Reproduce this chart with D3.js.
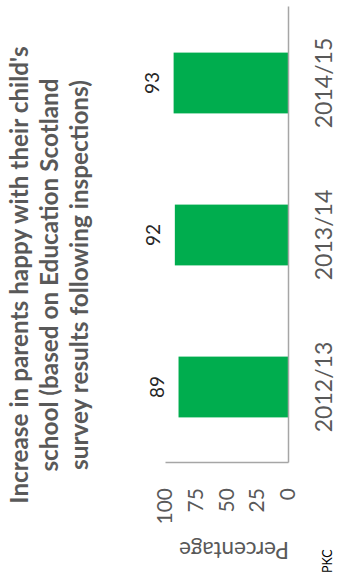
<!DOCTYPE html>
<html>
<head>
<meta charset="utf-8">
<script src="https://cdn.jsdelivr.net/npm/d3@7"></script>
<style>
  body { margin: 0; background: #fff; }
  svg { display: block; }
</style>
</head>
<body>
<script>
var categories = ["2012/13", "2013/14", "2014/15"];
var values = [89, 92, 93];
var ticks = [0, 25, 50, 75, 100];
var titleLines = [
    "Increase in parents happy with their child's",
    "school (based on Education Scotland",
    "survey results following inspections)"
];
var axisTitle = "Percentage";
var source = "PKC";

var imgWidth = 337;
var imgHeight = 588;

// the chart is drawn upright and then turned a quarter to the left,
// so the inner width is the page height and the inner height the page width
var chartWidth = imgHeight;
var chartHeight = imgWidth;

var margin = {top: 7, right: 7, bottom: 49, left: 125};
var plotTop = 165;

var font = "Lato, Carlito, Calibri, sans-serif";

var svg = d3.select("body").append("svg")
    .attr("width", imgWidth)
    .attr("height", imgHeight);

var g = svg.append("g")
    .attr("transform", "translate(0," + imgHeight + ") rotate(-90)");

var xScale = d3.scaleBand()
    .domain(categories)
    .range([margin.left, chartWidth - margin.right])
    .paddingInner(0.6)
    .paddingOuter(0.3);

var yScale = d3.scaleLinear()
    .domain([0, 100])
    .range([chartHeight - margin.bottom, plotTop]);

var data = categories.map(function(c, i) { return {cat: c, val: values[i]}; });

// bars
g.selectAll("rect.bar")
    .data(data)
    .enter().append("rect")
    .attr("class", "bar")
    .attr("x", function(d) { return xScale(d.cat); })
    .attr("width", xScale.bandwidth())
    .attr("y", function(d) { return yScale(d.val); })
    .attr("height", function(d) { return yScale(0) - yScale(d.val); })
    .attr("fill", "#00ad4e");

// value labels above bars
g.selectAll("text.val")
    .data(data)
    .enter().append("text")
    .attr("class", "val")
    .attr("x", function(d) { return xScale(d.cat) + xScale.bandwidth() / 2; })
    .attr("y", function(d) { return yScale(d.val) - 15; })
    .attr("text-anchor", "middle")
    .attr("font-family", font)
    .attr("font-size", 19)
    .attr("fill", "#262626")
    .text(function(d) { return d.val; });

// category axis
var xAxis = g.append("g")
    .attr("transform", "translate(0," + yScale(0) + ")")
    .call(d3.axisBottom(xScale).tickSize(0).tickSizeOuter(0));
xAxis.select(".domain").attr("stroke", "#a6a6a6").attr("stroke-width", 1.5);
xAxis.selectAll("text")
    .attr("font-family", font)
    .attr("font-size", 23)
    .attr("fill", "#595959")
    .attr("dy", null)
    .attr("y", 44);

// value axis
var yAxis = g.append("g")
    .attr("transform", "translate(" + margin.left + ",0)")
    .call(d3.axisLeft(yScale).tickValues(ticks).tickSize(0).tickSizeOuter(0));
yAxis.select(".domain").attr("stroke", "#a6a6a6").attr("stroke-width", 1.5);
yAxis.selectAll("text")
    .attr("font-family", font)
    .attr("font-size", 21)
    .attr("fill", "#595959")
    .attr("x", -25);

// axis title
g.append("text")
    .attr("transform", "translate(38," + 234 + ") rotate(-90)")
    .attr("text-anchor", "middle")
    .attr("dy", "0.35em")
    .attr("font-family", font)
    .attr("font-size", 22.5)
    .attr("fill", "#595959")
    .text(axisTitle);

// chart title
g.append("text").selectAll("tspan")
    .data(titleLines)
    .enter().append("tspan")
    .attr("x", 313)
    .attr("y", function(d, i) { return 28 + i * 30; })
    .attr("text-anchor", "middle")
    .attr("font-family", font)
    .attr("font-size", 24.3)
    .attr("font-weight", "bold")
    .attr("fill", "#595959")
    .text(function(d) { return d; });

// source note
g.append("text")
    .attr("x", 15)
    .attr("y", 332)
    .attr("font-family", font)
    .attr("font-size", 12.5)
    .attr("fill", "#000")
    .text(source);
</script>
</body>
</html>
